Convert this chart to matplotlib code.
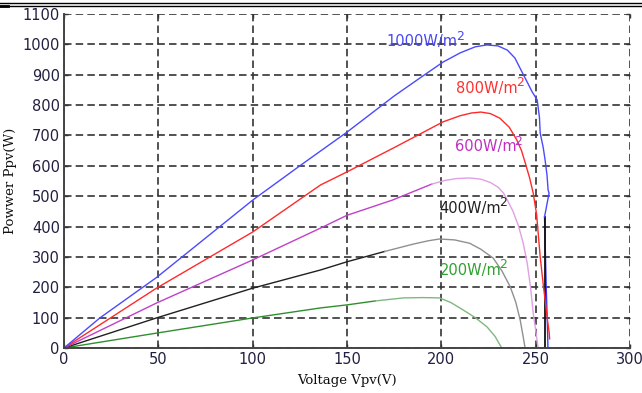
import matplotlib
matplotlib.use("Agg")
import matplotlib.pyplot as plt
from matplotlib.lines import Line2D

# ---- data ----
v1000 = [0, 19, 49, 75, 100, 125, 150, 175, 190, 201, 210, 218, 224, 230, 235,
         239, 243, 246, 248, 250.8, 252.0, 252.4, 254.0, 255.0, 256.0, 256.6, 257.1, 254.7]
p1000 = [0, 99, 232, 362, 487, 600, 711, 830, 895, 942, 972, 992, 998, 995, 981,
         955, 906, 870, 845, 817, 760, 708, 660, 619, 570, 520, 510, 432]
v1000_tail = [254.7, 255.6, 256.3, 256.5]
p1000_tail = [432, 200, 60, 0]

v800 = [0, 49, 100, 136, 150, 175, 201, 210, 216, 221, 226, 231, 236, 240, 242.5,
        244.5, 246.8, 248.7, 250.5, 252.4, 254.0, 255.0, 256.3, 257.2, 257.4]
p800 = [0, 197, 382, 537, 580, 660, 745, 765, 774, 777, 772, 757, 727, 685, 650,
        609, 560, 510, 440, 300, 210, 158, 90, 49, 30]

v600_a = [0, 49, 100, 136, 150, 174, 195]
p600_a = [0, 148, 290, 395, 437, 487, 540]
v600_b = [195, 202, 208, 215, 221, 226, 230, 233, 235, 238, 241, 243.4, 245.5,
          247.3, 248.7, 250.2, 251.3]
p600_b = [540, 552, 558, 560, 556, 545, 530, 510, 487, 450, 400, 345, 280,
          200, 115, 50, 0]

v400_a = [0, 49, 100, 136, 150, 170]
p400_a = [0, 99, 197, 257, 284, 318]
v400_b = [170, 185, 193, 199, 207, 215, 221, 227.5, 232, 236.5, 239.5, 241.8, 243.3, 244.4]
p400_b = [318, 342, 353, 359, 356, 345, 325, 296, 255, 202, 150, 92, 40, 0]

v200_a = [0, 49, 100, 136, 150, 165]
p200_a = [0, 49, 99, 132, 142, 155]
v200_b = [165, 180, 190, 199, 205, 211.6, 218, 224.3, 228.5, 232]
p200_b = [155, 165, 166, 165, 150, 125, 100, 69, 38, 0]

v_black = [255, 255]
p_black = [432, 0]

labels = ["1000W/m", "800W/m", "600W/m", "400W/m", "200W/m"]
label_sup = "2"
label_v = [171, 208, 207, 199, 199]
label_p = [1008, 856, 663, 461, 256]
label_colors = ["#4848f0", "#ff3030", "#c030c0", "#202020", "#30a030"]

xticks = [0, 50, 100, 150, 200, 250, 300]
yticks = list(range(0, 1101, 100))

# ---- figure ----
fig = plt.figure(figsize=(6.42, 3.93), dpi=100)
ax = fig.add_axes([64/642, 1-348/393, (630-64)/642, (348-14)/393])

lw = 1.0
ax.plot(v200_a, p200_a, color="#2f8f2f", lw=lw)
ax.plot(v200_b, p200_b, color="#80b880", lw=lw)
ax.plot(v400_a, p400_a, color="#202020", lw=lw)
ax.plot(v400_b, p400_b, color="#909090", lw=lw)
ax.plot(v600_a, p600_a, color="#c040c8", lw=lw)
ax.plot(v600_b, p600_b, color="#e0a0e4", lw=lw)
ax.plot(v1000_tail, p1000_tail, color="#3a3aff", lw=lw)
ax.plot(v_black, p_black, color="#111111", lw=1.3)
ax.plot(v800, p800, color="#ff2a2a", lw=lw)
ax.plot(v1000, p1000, color="#4a4aff", lw=lw)

for t, x, y, c in zip(labels, label_v, label_p, label_colors):
    txt = ax.text(x, y, t, color=c, fontsize=10.5, family="DejaVu Sans",
                  ha="left", va="center")
    ax.annotate(label_sup, xy=(1.0, 0.42), xycoords=txt, xytext=(-1.2, 0),
                textcoords="offset points", color=c, fontsize=9,
                family="DejaVu Sans", ha="left", va="bottom")

ax.set_xlim(0, 300)
ax.set_ylim(0, 1100)
ax.set_xticks(xticks)
ax.set_yticks(yticks)
ax.grid(True, color="#333333", linestyle=(0, (4.5, 2.5)), linewidth=1.2)
ax.set_axisbelow(True)

for s in ["top", "right"]:
    ax.spines[s].set_visible(False)
for s in ["left", "bottom"]:
    ax.spines[s].set_color("#444444")
    ax.spines[s].set_linewidth(1.4)

ax.tick_params(direction="in", length=3, width=1, colors="#333333",
               top=True, right=True, labelsize=10.5, labelcolor="#202040", pad=3)
for lab in ax.get_xticklabels() + ax.get_yticklabels():
    lab.set_family("DejaVu Sans")

ax.set_xlabel("Voltage Vpv(V)", family="DejaVu Serif", fontsize=9.5,
              color="#111111", labelpad=5)
ax.set_ylabel("Powwer Ppv(W)", family="DejaVu Serif", fontsize=9.5,
              color="#111111", labelpad=4)

# document frame lines at the top
fig.add_artist(Line2D([0, 1], [1-3/393, 1-3/393], transform=fig.transFigure,
                      color="black", lw=1.0))
fig.add_artist(Line2D([0, 1], [1-6/393, 1-6/393], transform=fig.transFigure,
                      color="black", lw=1.0))
fig.add_artist(Line2D([0, 8/642], [1-6/393, 1-6/393], transform=fig.transFigure,
                      color="black", lw=2.0))

fig.savefig("out.png", dpi=100)
